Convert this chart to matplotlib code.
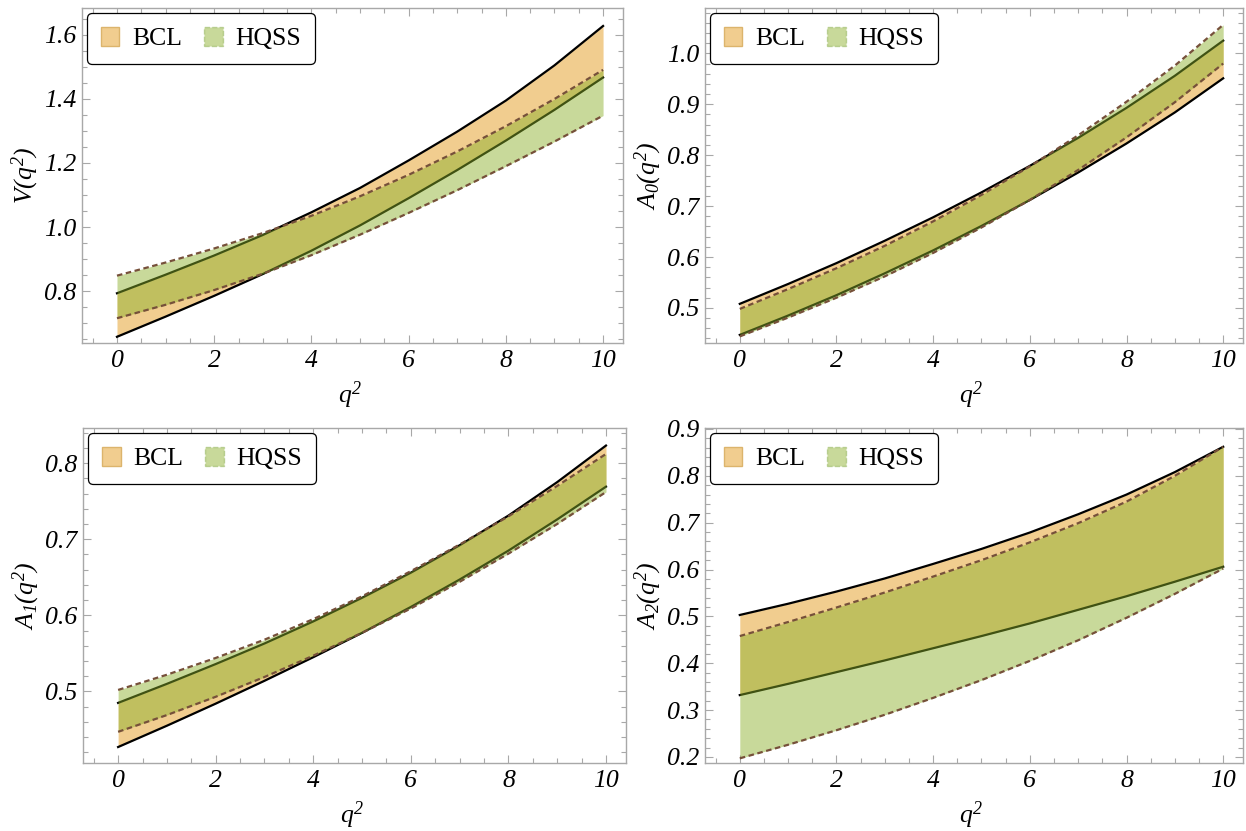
import matplotlib
matplotlib.use("Agg")
import matplotlib.pyplot as plt
from matplotlib.patches import Patch
from matplotlib.ticker import MultipleLocator, FormatStrFormatter

q2 = [0, 1, 2, 3, 4, 5, 6, 7, 8, 9, 10]

# V(q^2)
V_bcl_lo = [0.657, 0.720, 0.785, 0.853, 0.926, 1.005, 1.090, 1.178, 1.270, 1.366, 1.467]
V_bcl_hi = [0.793, 0.851, 0.911, 0.975, 1.046, 1.122, 1.208, 1.298, 1.395, 1.505, 1.628]
V_hqss_lo = [0.715, 0.757, 0.803, 0.854, 0.912, 0.976, 1.044, 1.115, 1.190, 1.267, 1.348]
V_hqss_hi = [0.848, 0.889, 0.933, 0.981, 1.035, 1.096, 1.163, 1.236, 1.315, 1.400, 1.491]

# A0(q^2)
A0_bcl_lo = [0.447, 0.485, 0.525, 0.568, 0.613, 0.661, 0.712, 0.766, 0.823, 0.884, 0.951]
A0_bcl_hi = [0.508, 0.547, 0.588, 0.632, 0.678, 0.727, 0.779, 0.834, 0.893, 0.956, 1.025]
A0_hqss_lo = [0.444, 0.481, 0.520, 0.562, 0.608, 0.658, 0.712, 0.771, 0.835, 0.904, 0.980]
A0_hqss_hi = [0.498, 0.537, 0.578, 0.622, 0.670, 0.722, 0.778, 0.839, 0.905, 0.976, 1.056]

# A1(q^2)
A1_bcl_lo = [0.427, 0.455, 0.484, 0.514, 0.545, 0.577, 0.611, 0.647, 0.685, 0.726, 0.769]
A1_bcl_hi = [0.485, 0.510, 0.536, 0.563, 0.592, 0.623, 0.656, 0.692, 0.731, 0.775, 0.823]
A1_hqss_lo = [0.447, 0.469, 0.493, 0.519, 0.547, 0.577, 0.609, 0.644, 0.681, 0.720, 0.762]
A1_hqss_hi = [0.502, 0.522, 0.544, 0.568, 0.595, 0.625, 0.658, 0.693, 0.730, 0.770, 0.812]

# A2(q^2)
A2_bcl_lo = [0.332, 0.356, 0.381, 0.406, 0.432, 0.458, 0.485, 0.514, 0.543, 0.574, 0.606]
A2_bcl_hi = [0.503, 0.527, 0.553, 0.581, 0.612, 0.644, 0.679, 0.718, 0.760, 0.808, 0.862]
A2_hqss_lo = [0.197, 0.226, 0.257, 0.290, 0.326, 0.364, 0.405, 0.449, 0.497, 0.548, 0.602]
A2_hqss_hi = [0.458, 0.488, 0.519, 0.551, 0.585, 0.620, 0.658, 0.699, 0.745, 0.800, 0.862]

ylabels = [r"$V(q^2)$", r"$A_0(q^2)$", r"$A_1(q^2)$", r"$A_2(q^2)$"]
legend_labels = ["BCL", "HQSS"]

plt.rcParams["font.family"] = "serif"
plt.rcParams["font.serif"] = ["Liberation Serif", "DejaVu Serif"]
plt.rcParams["font.style"] = "italic"
plt.rcParams["mathtext.fontset"] = "custom"
plt.rcParams["mathtext.rm"] = "Liberation Serif:italic"
plt.rcParams["mathtext.it"] = "Liberation Serif:italic"

ORANGE = "#f1cd8f"
GREEN = "#8ab02a"
GREEN_A = 0.47
BROWN = "#76503a"
FRAME = "#a8a8a8"

panels = [
    dict(bcl=(V_bcl_lo, V_bcl_hi), hqss=(V_hqss_lo, V_hqss_hi),
         rect=[0.0658, 0.5872, 0.4342, 0.4031], ylim=(0.6375, 1.684), major=0.2, minor=0.05),
    dict(bcl=(A0_bcl_lo, A0_bcl_hi), hqss=(A0_hqss_lo, A0_hqss_hi),
         rect=[0.5658, 0.5872, 0.4318, 0.4031], ylim=(0.431, 1.089), major=0.1, minor=0.02),
    dict(bcl=(A1_bcl_lo, A1_bcl_hi), hqss=(A1_hqss_lo, A1_hqss_hi),
         rect=[0.0666, 0.0818, 0.4358, 0.4031], ylim=(0.406, 0.846), major=0.1, minor=0.02),
    dict(bcl=(A2_bcl_lo, A2_bcl_hi), hqss=(A2_hqss_lo, A2_hqss_hi),
         rect=[0.5658, 0.0818, 0.4318, 0.4031], ylim=(0.187, 0.902), major=0.1, minor=0.02),
]

fig = plt.figure(figsize=(12.46, 8.31), dpi=100)

for p, ylab in zip(panels, ylabels):
    ax = fig.add_axes(p["rect"])
    lo, hi = p["bcl"]
    hlo, hhi = p["hqss"]

    # BCL band with black edges, then translucent HQSS band on top
    ax.fill_between(q2, lo, hi, color=ORANGE, lw=0, zorder=1)
    ax.plot(q2, lo, color="black", lw=1.6, zorder=2)
    ax.plot(q2, hi, color="black", lw=1.6, zorder=2)
    ax.fill_between(q2, hlo, hhi, color=GREEN, alpha=GREEN_A, lw=0, zorder=3)
    ax.plot(q2, hlo, color=BROWN, lw=1.6, ls=(0, (2.5, 1.6)), zorder=4)
    ax.plot(q2, hhi, color=BROWN, lw=1.6, ls=(0, (2.5, 1.6)), zorder=4)

    ax.set_xlim(-0.72, 10.41)
    ax.set_ylim(*p["ylim"])
    ax.xaxis.set_major_locator(MultipleLocator(2))
    ax.xaxis.set_minor_locator(MultipleLocator(0.5))
    ax.yaxis.set_major_locator(MultipleLocator(p["major"]))
    ax.yaxis.set_minor_locator(MultipleLocator(p["minor"]))
    ax.yaxis.set_major_formatter(FormatStrFormatter("%.1f"))

    ax.tick_params(which="both", direction="in", top=True, right=True,
                   color=FRAME, width=0.8, labelsize=18.5)
    ax.tick_params(which="major", length=6)
    ax.tick_params(which="minor", length=3.5)
    ax.tick_params(axis="x", pad=5)
    ax.tick_params(axis="y", pad=4)
    for s in ax.spines.values():
        s.set_color(FRAME)
        s.set_linewidth(1.0)

    ax.set_xlabel(r"$q^2$", fontsize=18.5, va="center")
    ax.xaxis.set_label_coords(0.495, -0.155)
    ax.set_ylabel(ylab, fontsize=18.5, va="center", ha="center")
    ax.yaxis.set_label_coords(-0.105, 0.5)

    handles = [
        Patch(facecolor=ORANGE, edgecolor="#dcb46c", lw=1.0),
        Patch(facecolor=GREEN, alpha=GREEN_A, edgecolor="#86ab4a", lw=1.0, ls="--"),
    ]
    leg = ax.legend(handles, legend_labels, loc="upper left", bbox_to_anchor=(0.009, 0.985),
                    borderaxespad=0, ncol=2, fancybox=True, framealpha=1,
                    prop=dict(family="serif", style="normal", size=18.5),
                    handlelength=0.72, handleheight=0.72, handletextpad=0.5,
                    columnspacing=0.85, borderpad=0.55)
    leg.get_frame().set_edgecolor("black")
    leg.get_frame().set_linewidth(0.9)
    leg.set_zorder(10)

fig.savefig("out.png", dpi=100)
